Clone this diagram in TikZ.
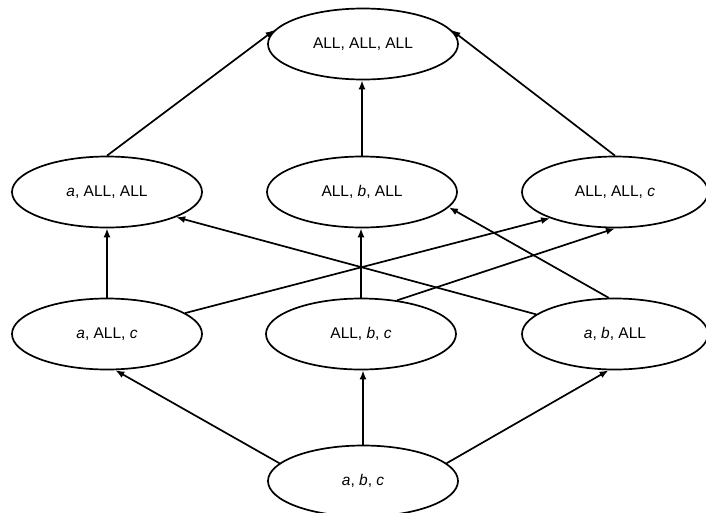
\documentclass[tikz,border=0pt]{standalone}
\usepackage{fontspec}
\setmainfont{Liberation Sans}
\usetikzlibrary{shapes.geometric,arrows.meta}
\begin{document}
\begin{tikzpicture}[x=1pt,y=-1pt,
 cell/.style={ellipse,draw,line width=1.7pt,minimum width=190pt,minimum height=71pt,inner sep=0pt,font=\fontsize{15.5}{18}\selectfont},
 link/.style={line width=1.7pt,-{Latex[length=9pt,width=7pt]}}]
\useasboundingbox (0,0) rectangle (706,512);
\node[cell] (AAA) at (363,44) {ALL, ALL, ALL};
\node[cell] (aAA) at (107,192) {\textit{a}, ALL, ALL};
\node[cell] (AbA) at (362,192) {ALL, \textit{b}, ALL};
\node[cell,minimum width=186pt] (AAc) at (615,192) {ALL, ALL, \textit{c}};
\node[cell] (aAc) at (107,334) {\textit{a}, ALL, \textit{c}};
\node[cell] (Abc) at (361,334) {ALL, \textit{b}, \textit{c}};
\node[cell,minimum width=186pt] (abA) at (615,334) {\textit{a}, \textit{b}, ALL};
\node[cell] (abc) at (363,481) {\textit{a}, \textit{b}, \textit{c}};
% to top
\draw[link] (aAA.north) -- (AAA.171);
\draw[link] (AbA.north) -- (AbA.north |- AAA.south);
\draw[link] (AAc.north) -- (AAA.9);
% to row 2
\draw[link] (aAc.north) -- (aAA.south);
\draw[link] (aAc.15) -- (AAc.202);
\draw[link] (Abc.north) -- (Abc.north |- AbA.south);
\draw[link] (Abc.43) -- (AAc.south);
\draw[link] (abA.100) -- (AbA.350);
\draw[link] (abA.166) -- (aAA.340);
% to row 3
\draw[link] (abc.168) -- (aAc.283);
\draw[link] (abc.north) -- (abc.north |- Abc.south);
\draw[link] (abc.12) -- (abA.260);
\end{tikzpicture}
\end{document}
